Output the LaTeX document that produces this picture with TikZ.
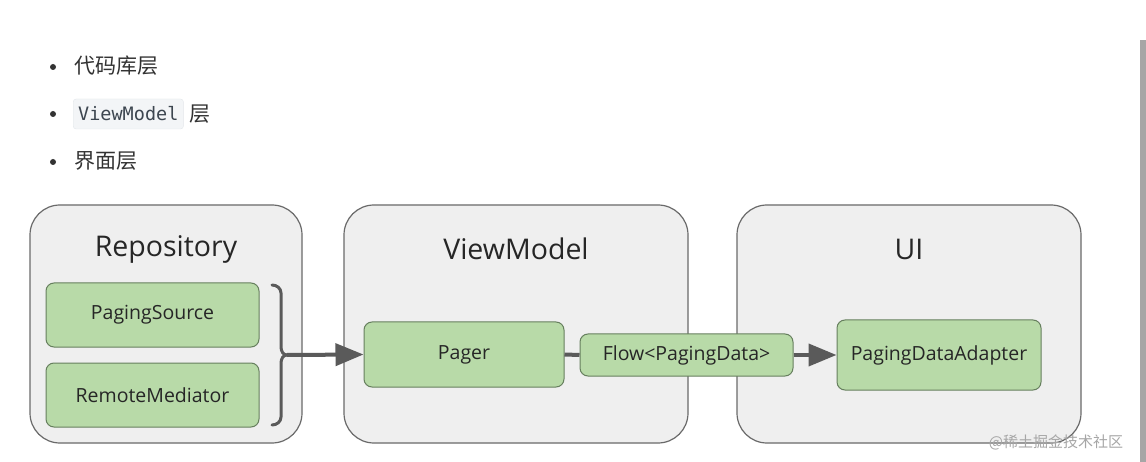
\documentclass[tikz,border=0pt]{standalone}
\usepackage{fontspec}
\setmainfont{Open Sans}
\setmonofont{DejaVu Sans Mono}
\newfontfamily\cjk{Noto Sans CJK SC}
\usepackage{tikz}
\usetikzlibrary{arrows.meta,positioning}

\definecolor{layerfill}{HTML}{EFEFEF}
\definecolor{layerline}{HTML}{6A6A6A}
\definecolor{boxfill}{HTML}{B8DAA8}
\definecolor{boxline}{HTML}{667F5E}
\definecolor{arrowgray}{HTML}{5A5A5A}
\definecolor{codebg}{HTML}{F3F5F7}
\definecolor{codeline}{HTML}{E3E7EB}
\definecolor{codetext}{HTML}{3D4650}

\tikzset{
    layer/.style={draw=layerline, fill=layerfill, rounded corners=30pt, line width=1.2pt},
    layertitle/.style={font=\fontsize{28.5}{32}\selectfont, text=black!85},
    pbox/.style={draw=boxline, fill=boxfill, rectangle, rounded corners=8pt, line width=1pt, font=\fontsize{19.5}{22}\selectfont, text=black!85},
    flowline/.style={draw=arrowgray, line width=4pt},
    flowarrow/.style={flowline, -{Triangle[length=28pt,width=22pt]}},
    bullettext/.style={anchor=west, font=\cjk\fontsize{21}{24}\selectfont, text=black!80}
}

\begin{document}
\begin{tikzpicture}[x=1pt,y=-1pt]
        \useasboundingbox (0,0) rectangle (1146,462);
        \fill[white] (0,0) rectangle (1146,462);
        \fill[gray!70] (1140,40) rectangle (1146,462);

        % Bullet list
        \foreach \y in {67,114,162} \fill[black!80] (53,\y) circle (3pt);
        \node[bullettext] (repotext) at (71,66) {代码库层};
        \node[draw=codeline, fill=codebg, rounded corners=3pt, anchor=west, inner sep=5pt,
              minimum height=30pt, font=\ttfamily\fontsize{18.5}{21}\selectfont, text=codetext] (vmcode) at (73,114) {ViewModel};
        \node[bullettext, right=2pt of vmcode] (vmtext) {层};
        \node[bullettext] (uitext) at (71,161) {界面层};

        % Define the three layers
        \draw[layer] (30,205) rectangle (302,443);
        \draw[layer] (344,205) rectangle (688,443);
        \draw[layer] (737,205) rectangle (1081,443);
        \node[layertitle] (repo) at (166,249) {Repository};
        \node[layertitle] (vm) at (516,249) {ViewModel};
        \node[layertitle] (ui) at (909,249) {UI};

        % Define nodes for the blocks
        \node[pbox, minimum width=213pt, minimum height=64pt] (source) at (152.5,315) {PagingSource};
        \node[pbox, minimum width=213pt, minimum height=64pt] (mediator) at (152.5,395) {RemoteMediator};
        \node[pbox, minimum width=200pt, minimum height=65pt] (pager) at (464,354.5) {Pager};
        \node[pbox, minimum width=213pt, minimum height=42pt, inner sep=2pt] (flow) at (686.5,355) {Flow<PagingData>};
        \node[pbox, minimum width=204pt, minimum height=70pt] (adapter) at (939,355) {PagingDataAdapter};

        % Draw the brace
        \coordinate (tip) at (287,355);
        \draw[arrowgray, line width=3pt, line cap=round]
            (272,285) to[out=0,in=90] (281,293) -- (281,347) to[out=-90,in=180] (tip)
            (272,425) to[out=0,in=-90] (281,417) -- (281,363) to[out=90,in=180] (tip);

        % Draw arrows
        \draw[flowarrow] (tip) -- (pager.west);
        \draw[flowline] (pager.east) -- (flow.west);
        \draw[flowarrow] (flow.east) -- (adapter.west);

        % Watermark
        \node[font=\cjk\fontsize{15}{18}\selectfont, text=black!35] (mark) at (1056,442) {@稀土掘金技术社区};
    \end{tikzpicture}
\end{document}
